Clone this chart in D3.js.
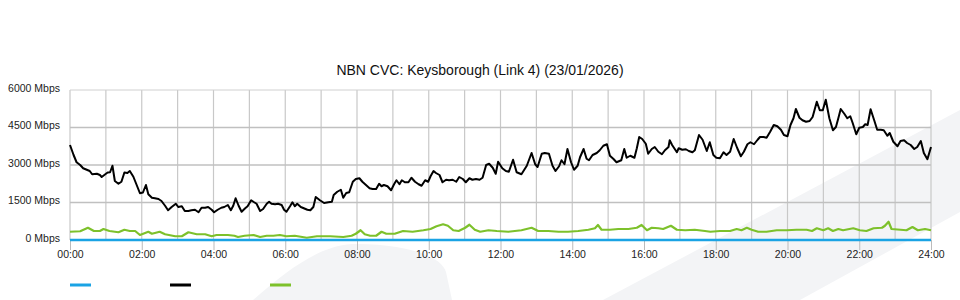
<!DOCTYPE html>
<head>
  <meta charset="utf-8">
  <script src="https://cdn.jsdelivr.net/npm/d3@7"></script>
  <style>
    body { font-family: "Liberation Sans", Arial, sans-serif; margin:0; background:#fff; }
    .ylab, .xlab { font-size:10.5px; fill:#222; }
    .title { font-size:14px; fill:#111; }
  </style>
</head>

<body>
  <script>
    // time of day in minutes, traffic in Mbps
    var hourTicks = [0, 120, 240, 360, 480, 600, 720, 840, 960, 1080, 1200, 1320, 1440];
    var mbpsTicks = [0, 1500, 3000, 4500, 6000];

    var blueSeries = [[0, 0], [1440, 0]];

    var blackSeries = [
      [0,3800],[6,3400],[11,3110],[17,3000],[22,2870],[28,2810],[33,2760],[37,2630],[45,2650],[50,2600],
      [53,2520],[59,2630],[63,2700],[67,2710],[71,2970],[75,2360],[81,2250],[86,2330],[91,2700],[96,2680],
      [100,2760],[106,2530],[111,2230],[117,1870],[122,1900],[127,2200],[131,1830],[137,1690],[142,1670],[148,1640],
      [153,1560],[159,1370],[164,1190],[170,1320],[177,1450],[181,1320],[187,1350],[192,1160],[198,1160],[203,1190],
      [209,1210],[215,1110],[220,1290],[226,1290],[231,1320],[237,1210],[241,1110],[247,1210],[253,1290],[258,1320],
      [264,1400],[269,1190],[273,1370],[277,1670],[282,1370],[287,1130],[293,1270],[297,1350],[303,1590],[308,1510],
      [312,1450],[318,1160],[323,1240],[329,1450],[333,1530],[337,1450],[343,1430],[348,1450],[354,1400],[358,1210],
      [362,1130],[368,1350],[372,1510],[376,1350],[380,1450],[386,1320],[391,1270],[397,1210],[402,1190],[407,1320],
      [411,1720],[418,1590],[425,1480],[432,1510],[438,1530],[441,1800],[447,1930],[453,2010],[457,1690],[462,1880],
      [467,1910],[473,2330],[478,2440],[484,2470],[489,2330],[495,2200],[501,2070],[506,2040],[512,2040],[517,2250],
      [521,2150],[525,2200],[531,2150],[537,1990],[542,2230],[546,2390],[551,2230],[555,2390],[560,2310],[566,2310],
      [571,2490],[577,2330],[583,2230],[588,2170],[594,2390],[599,2330],[603,2550],[608,2760],[612,2680],[618,2600],
      [623,2310],[629,2410],[634,2390],[640,2410],[646,2330],[651,2520],[657,2440],[662,2310],[668,2470],[673,2410],
      [679,2440],[685,2410],[690,2490],[696,3000],[701,3050],[707,2890],[712,2650],[716,3130],[723,2870],[729,2760],
      [734,2730],[741,3210],[747,2710],[755,2630],[764,2970],[772,3480],[778,3030],[782,2920],[789,3450],[794,3480],
      [801,3450],[807,2970],[812,2760],[818,2950],[822,3190],[827,3030],[832,3640],[838,3110],[843,2810],[849,2970],
      [853,3310],[859,3640],[864,3250],[868,3190],[874,3400],[881,3480],[886,3590],[892,3770],[898,3830],[903,3370],
      [909,3240],[914,3110],[922,3190],[927,3640],[931,3290],[937,3370],[944,3290],[948,3670],[952,4120],[957,4040],
      [963,3850],[967,3450],[973,3640],[978,3720],[984,3530],[990,3430],[995,3590],[1001,3720],[1003,3990],[1007,3800],
      [1015,3510],[1018,3670],[1024,3610],[1030,3630],[1035,3560],[1041,3510],[1045,3590],[1052,4200],[1058,4010],[1065,3560],
      [1070,3910],[1076,3400],[1081,3290],[1087,3270],[1093,3510],[1098,3400],[1104,3530],[1110,4040],[1116,3670],[1122,3350],
      [1127,3530],[1133,3830],[1138,3910],[1144,3830],[1150,4010],[1154,4120],[1160,4120],[1165,4090],[1171,4330],[1177,4600],
      [1183,4550],[1189,4410],[1194,4200],[1200,4150],[1205,4600],[1210,4870],[1214,5240],[1220,4890],[1225,4790],[1231,4730],
      [1237,4760],[1242,4920],[1249,5530],[1254,5190],[1259,5190],[1264,5610],[1270,4870],[1276,4390],[1281,4520],[1285,4870],
      [1289,5240],[1295,5050],[1300,4870],[1305,4950],[1309,4680],[1315,4230],[1320,4490],[1326,4520],[1330,4630],[1334,4600],
      [1339,5230],[1345,4790],[1350,4410],[1356,4410],[1361,4390],[1367,4170],[1371,4280],[1377,3930],[1384,3750],[1389,3960],
      [1395,3990],[1400,3880],[1406,3800],[1412,3640],[1417,3720],[1423,3960],[1428,3480],[1434,3230],[1440,3720]
    ];

    var greenSeries = [
      [0,330],[17,350],[30,490],[40,360],[50,360],[56,440],[66,360],[81,310],[91,410],[100,360],
      [109,360],[117,200],[131,330],[137,250],[150,330],[159,230],[176,150],[187,150],[198,310],[212,230],
      [226,230],[237,150],[245,200],[264,200],[275,170],[281,120],[292,170],[307,200],[318,120],[329,170],
      [340,170],[351,200],[362,150],[376,170],[396,90],[413,150],[435,150],[457,120],[471,170],[478,250],
      [486,390],[493,230],[502,170],[512,170],[521,330],[529,250],[543,250],[557,360],[573,330],[591,390],
      [603,440],[613,550],[624,630],[632,570],[641,390],[650,360],[661,490],[668,610],[677,410],[686,330],
      [700,390],[714,360],[733,330],[755,390],[772,490],[783,360],[800,360],[817,330],[833,330],[850,360],
      [867,410],[878,470],[883,600],[889,410],[903,410],[917,440],[934,440],[948,490],[956,600],[965,390],
      [973,490],[984,470],[992,440],[1005,570],[1015,410],[1029,390],[1045,410],[1062,360],[1071,330],[1087,360],
      [1104,360],[1115,440],[1123,390],[1132,490],[1140,410],[1151,330],[1165,330],[1182,390],[1199,390],[1215,410],
      [1232,410],[1241,360],[1249,470],[1260,390],[1268,470],[1276,360],[1285,440],[1293,390],[1310,470],[1321,390],
      [1332,360],[1344,470],[1358,490],[1363,570],[1369,730],[1374,440],[1389,410],[1399,390],[1409,520],[1418,390],
      [1430,440],[1440,390]
    ];

    var title = "NBN CVC: Keysborough (Link 4) (23/01/2026)";

    var width = 960,
        height = 300;

    var svg = d3.select("body")
      .append("svg")
      .attr("width", width)
      .attr("height", height);

    // faint watermark shapes in the background
    svg.append("path")
      .attr("d", "M603,300 L960,110 L960,212 L800,300 Z")
      .attr("fill", "#f3f4f6");
    svg.append("path")
      .attr("d", "M253,300 C285,272 318,246 352,244 C392,243 440,252 446,272 L452,300 Z")
      .attr("fill", "#f3f4f6");

    var x = d3.scaleLinear().domain([0, 1440]).range([70, 931]);
    var y = d3.scaleLinear().domain([0, 6000]).range([240, 90]);

    // vertical grid, one line per hour
    svg.append("g").selectAll("line")
      .data(d3.range(0, 1441, 60)).enter().append("line")
      .attr("x1", function(d) { return x(d); })
      .attr("x2", function(d) { return x(d); })
      .attr("y1", y(6000))
      .attr("y2", y(0))
      .attr("stroke", "#c8c8c8")
      .attr("stroke-width", 1.2);

    // horizontal grid
    svg.append("g").selectAll("line")
      .data(mbpsTicks).enter().append("line")
      .attr("x1", x(0))
      .attr("x2", x(1440))
      .attr("y1", function(d) { return y(d); })
      .attr("y2", function(d) { return y(d); })
      .attr("stroke", function(d) { return d == 6000 ? "#d0d0d0" : "#c0c0c0"; })
      .attr("stroke-width", function(d) { return d == 6000 ? 1 : 1.6; });

    // x axis ticks + labels
    var xAxis = d3.axisBottom(x)
      .tickValues(hourTicks)
      .tickSize(10)
      .tickFormat(function(d) { return d3.format("02d")(d / 60) + ":00"; });
    var gx = svg.append("g").attr("transform", "translate(0,240)").call(xAxis);
    gx.select(".domain").remove();
    gx.selectAll(".tick line").attr("stroke", "#bbb");
    gx.selectAll(".tick text")
      .attr("class", "xlab")
      .attr("y", 11)
      .attr("font-family", null)
      .attr("font-size", null);

    // y axis labels
    var yAxis = d3.axisLeft(y)
      .tickValues(mbpsTicks)
      .tickSize(0)
      .tickPadding(10)
      .tickFormat(function(d) { return d + " Mbps"; });
    var gy = svg.append("g").attr("transform", "translate(70,0)").call(yAxis);
    gy.select(".domain").remove();
    gy.selectAll(".tick text")
      .attr("class", "ylab")
      .attr("dy", "0.1em")
      .attr("font-family", null)
      .attr("font-size", null);

    var line = d3.line()
      .x(function(d) { return x(d[0]); })
      .y(function(d) { return y(d[1]); });

    svg.append("path").datum(greenSeries)
      .attr("d", line)
      .attr("fill", "none")
      .attr("stroke", "#7dc12b")
      .attr("stroke-width", 2.2)
      .attr("stroke-linejoin", "round");

    svg.append("path").datum(blackSeries)
      .attr("d", line)
      .attr("fill", "none")
      .attr("stroke", "#000")
      .attr("stroke-width", 2)
      .attr("stroke-linejoin", "round");

    svg.append("path").datum(blueSeries)
      .attr("d", line)
      .attr("fill", "none")
      .attr("stroke", "#1aa3e4")
      .attr("stroke-width", 2.5);

    svg.append("text")
      .attr("class", "title")
      .attr("x", 480)
      .attr("y", 75)
      .attr("text-anchor", "middle")
      .text(title);

    // legend: only the coloured swatches are shown
    var legendColors = ["#1aa3e4", "#000", "#7dc12b"];
    svg.append("g").selectAll("line")
      .data(legendColors).enter().append("line")
      .attr("x1", function(d, i) { return 70 + i * 100; })
      .attr("x2", function(d, i) { return 91 + i * 100; })
      .attr("y1", 285)
      .attr("y2", 285)
      .attr("stroke", function(d) { return d; })
      .attr("stroke-width", 3);
  </script>
</body>
